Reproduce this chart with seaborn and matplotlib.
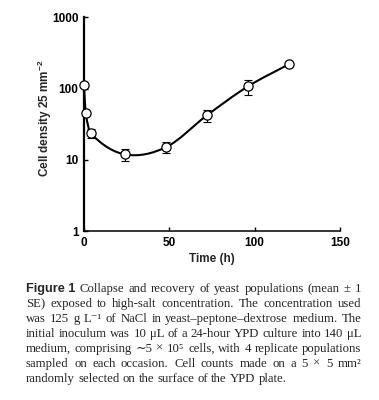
import numpy as np
import matplotlib
matplotlib.use("Agg")
import matplotlib.pyplot as plt
from matplotlib.path import Path
from matplotlib.patches import PathPatch
import seaborn as sns
import pandas as pd

# ---- data ----
time_h = [0, 1, 4, 24, 48, 72, 96, 120]
density = [111, 46, 23.5, 11.9, 15.0, 42, 107, 219]
se = [4, 3, 3.5, 2.3, 2.7, 8, 26, 10]
xticks = [0, 50, 100, 150]
yticks = [1, 10, 100, 1000]
ytick_labels = ["1", "10", "100", "1000"]
xlabel = "Time (h)"
ylabel = "Cell density 25 mm$^{\\mathbf{-2}}$"

caption_lines = [
    ["Figure 1", "Collapse", "and", "recovery", "of", "yeast", "populations", "(mean", "±", "1"],
    ["SE)", "exposed", "to", "high-salt", "concentration.", "The", "concentration", "used"],
    ["was", "125", "g", "L⁻¹", "of", "NaCl", "in", "yeast–peptone–dextrose", "medium.", "The"],
    ["initial", "inoculum", "was", "10", "μL", "of", "a", "24-hour", "YPD", "culture", "into", "140", "μL"],
    ["medium,", "comprising", "∼5", "×", "10⁵", "cells,", "with", "4", "replicate", "populations"],
    ["sampled", "on", "each", "occasion.", "Cell", "counts", "made", "on", "a", "5", "×", "5", "mm²"],
    ["randomly", "selected", "on", "the", "surface", "of", "the", "YPD", "plate."],
]

df = pd.DataFrame({"time": time_h, "density": density, "se": se})

sns.set_theme(style="ticks")
plt.rcParams["font.family"] = ["Liberation Sans", "DejaVu Sans"]
plt.rcParams["mathtext.fontset"] = "custom"
plt.rcParams["mathtext.rm"] = "Liberation Sans"
plt.rcParams["mathtext.bf"] = "Liberation Sans:bold"

W, H = 379, 400
fig = plt.figure(figsize=(W / 100, H / 100), dpi=100)
ax = fig.add_axes([84 / W, 1 - 231 / H, (340 - 84) / W, (231 - 17.3) / H])

ax.set_yscale("log")
ax.set_xlim(0, 150)
ax.set_ylim(1, 1000)

# smooth curve: cubic Hermite in (x, log y) drawn as Bezier path
x = np.array(time_h, dtype=float)
ly = np.log10(np.array(density, dtype=float))
n = len(x)
m = np.zeros(n)
for i in range(n):
    if i == 0:
        m[i] = (ly[1] - ly[0]) / (x[1] - x[0])
    elif i == n - 1:
        m[i] = (ly[-1] - ly[-2]) / (x[-1] - x[-2])
    else:
        m[i] = (ly[i + 1] - ly[i - 1]) / (x[i + 1] - x[i - 1])
verts = [(x[0], 10 ** ly[0])]
codes = [Path.MOVETO]
for i in range(n - 1):
    h = x[i + 1] - x[i]
    c1 = (x[i] + h / 3, 10 ** (ly[i] + m[i] * h / 3))
    c2 = (x[i + 1] - h / 3, 10 ** (ly[i + 1] - m[i + 1] * h / 3))
    verts += [c1, c2, (x[i + 1], 10 ** ly[i + 1])]
    codes += [Path.CURVE4] * 3
ax.add_patch(PathPatch(Path(verts, codes), facecolor="none", edgecolor="black",
                       lw=1.5, zorder=2, clip_on=False))

ax.errorbar(df["time"], df["density"], yerr=df["se"], fmt="none", ecolor="black",
            elinewidth=0.8, capsize=3, capthick=0.8, zorder=3, clip_on=False)
sns.scatterplot(data=df, x="time", y="density", ax=ax, s=44, marker="o",
                facecolor="white", edgecolor="black", linewidth=0.9, zorder=4,
                clip_on=False, legend=False)

ax.set_xticks(xticks)
ax.set_xticklabels([str(t) for t in xticks])
ax.set_yticks(yticks)
ax.set_yticklabels(ytick_labels)
ax.yaxis.set_minor_locator(matplotlib.ticker.NullLocator())
ax.tick_params(axis="both", direction="in", length=3, width=1, labelsize=8.5,
               colors="black", pad=4)
for lab in ax.get_xticklabels() + ax.get_yticklabels():
    lab.set_fontweight("bold")
ax.spines["top"].set_visible(False)
ax.spines["right"].set_visible(False)
ax.spines["left"].set_linewidth(1.6)
ax.spines["bottom"].set_linewidth(1.1)
ax.spines["left"].set_color("black")
ax.spines["bottom"].set_color("black")
ax.set_xlabel(xlabel, fontsize=8.5, fontweight="bold", labelpad=3)
ax.set_ylabel(ylabel, fontsize=8.5, fontweight="bold")
ax.yaxis.set_label_coords(-0.116, 0.526)
ax.set_facecolor("white")

# caption, justified
fig.canvas.draw()
renderer = fig.canvas.get_renderer()
left_px, right_px = 26.0, 361.5
serif = ["Liberation Serif", "DejaVu Serif"]
cap_size = 9.2
for li, words in enumerate(caption_lines):
    base_y = 292 + 15 * li
    texts = []
    for w in words:
        if w == "Figure 1":
            t = fig.text(0, 1 - base_y / H, w, fontsize=cap_size, fontweight="bold",
                         family=["Liberation Sans", "DejaVu Sans"], va="baseline", ha="left")
        else:
            t = fig.text(0, 1 - base_y / H, w, fontsize=cap_size, family=serif,
                         va="baseline", ha="left")
        texts.append(t)
    widths = [t.get_window_extent(renderer).width for t in texts]
    if li == len(caption_lines) - 1:
        gap_w = 3.2
    else:
        gap_w = (right_px - left_px - sum(widths)) / (len(words) - 1)
    xpos = left_px
    for t, wd in zip(texts, widths):
        t.set_x(xpos / W)
        xpos += wd + gap_w

fig.savefig("out.png", dpi=100, facecolor="white")
